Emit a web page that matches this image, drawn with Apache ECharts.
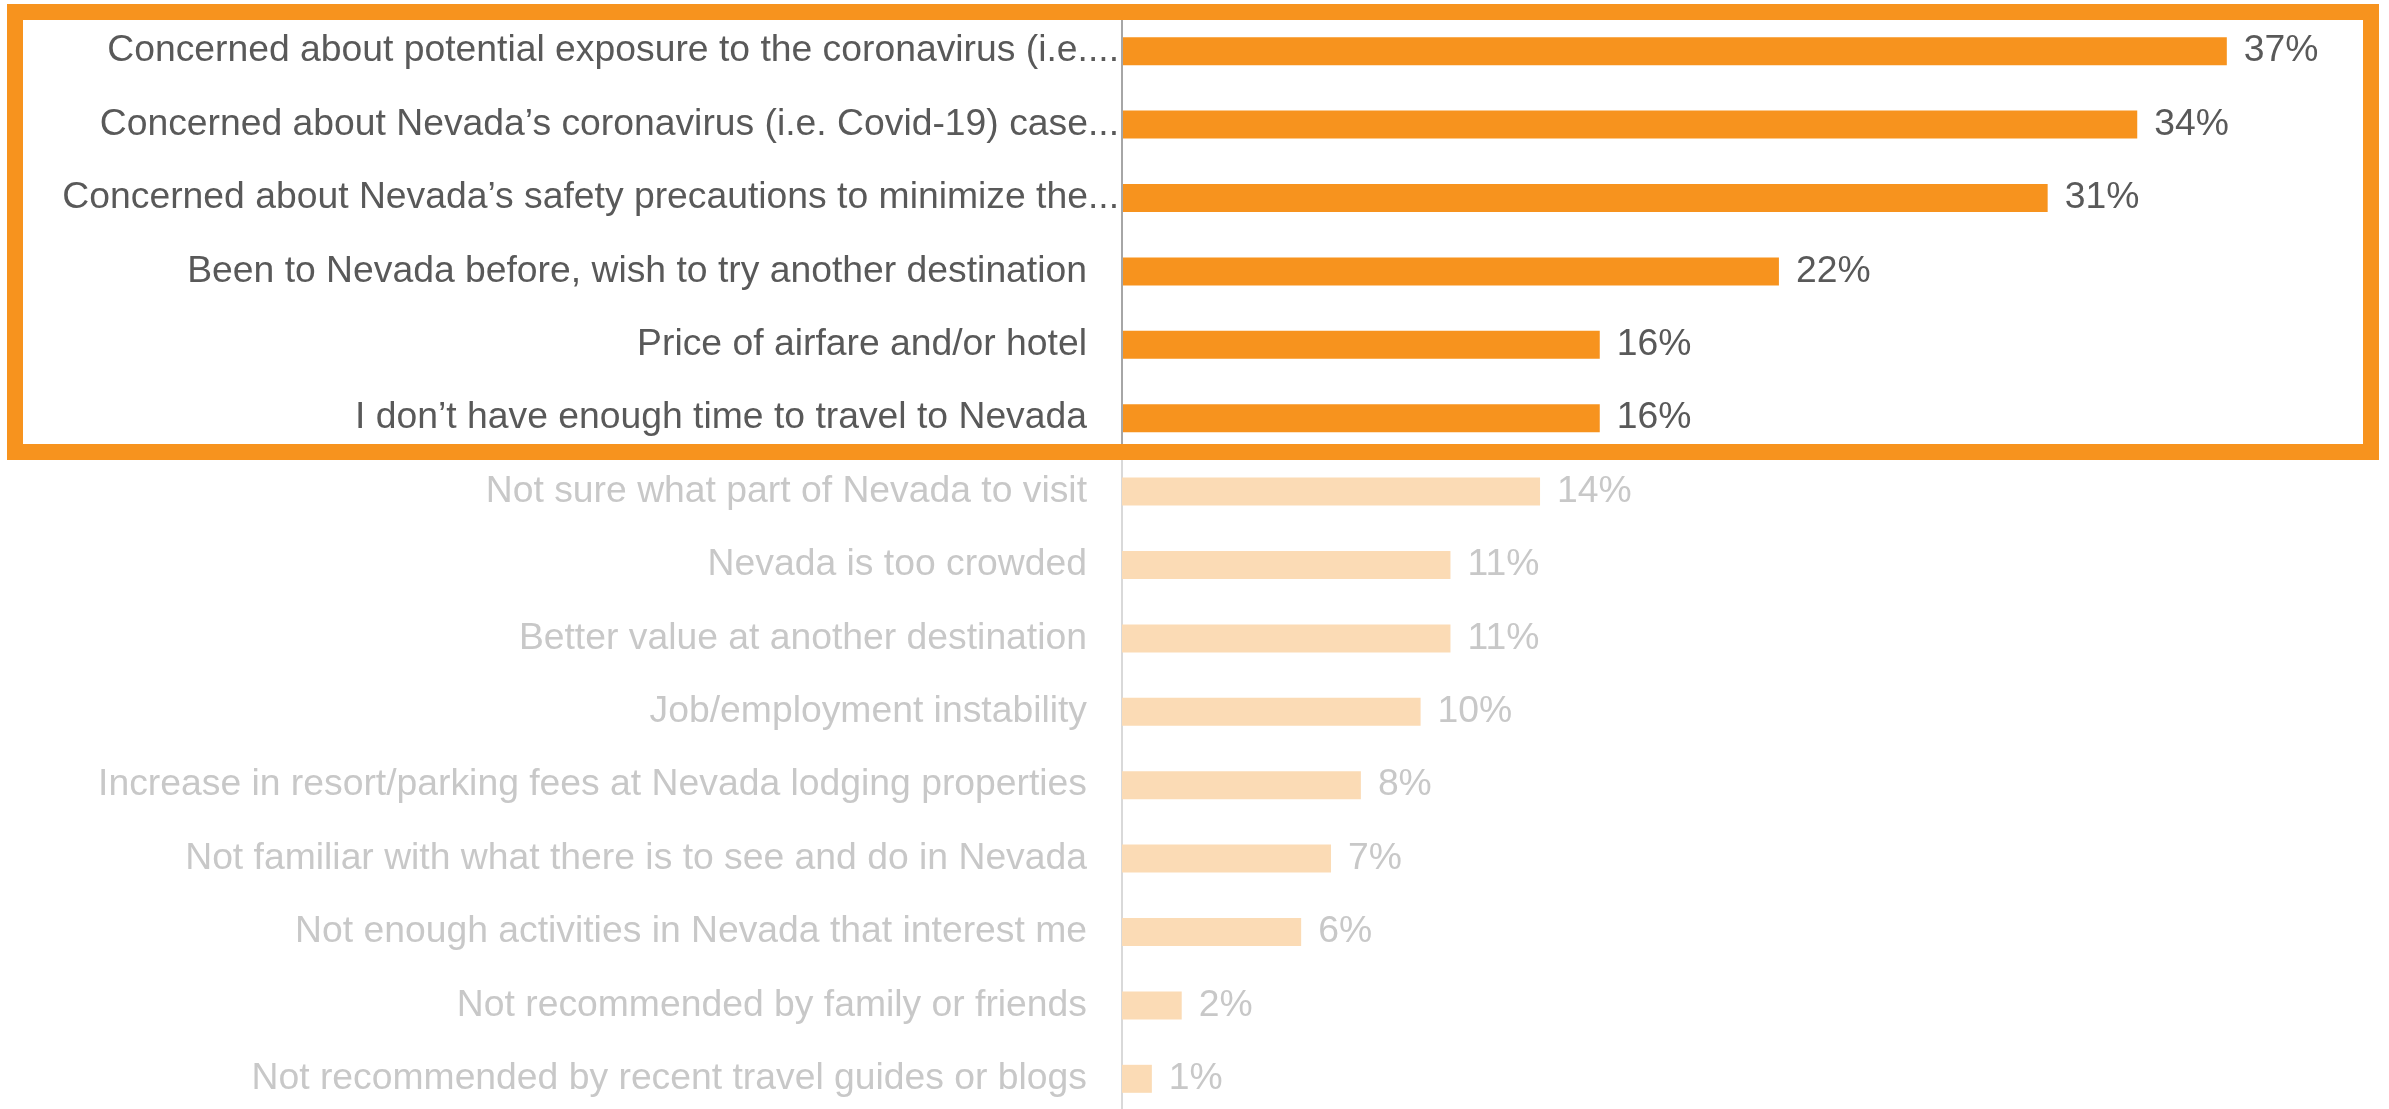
<!DOCTYPE html>
<html>
<head>
<meta charset="utf-8">
<style>
  html, body { margin: 0; padding: 0; background: #ffffff; }
  #chart { width: 2389px; height: 1109px; }
</style>
<script src="https://cdn.jsdelivr.net/npm/echarts@6/dist/echarts.min.js"></script>
</head>
<body>
<div id="chart"></div>
<script>
// Reasons for not visiting Nevada (share of respondents, %)
const categories = [
  'Concerned about potential exposure to the coronavirus (i.e....',
  'Concerned about Nevada\u2019s coronavirus (i.e. Covid-19) case...',
  'Concerned about Nevada\u2019s safety precautions to minimize the...',
  'Been to Nevada before, wish to try another destination',
  'Price of airfare and/or hotel',
  'I don\u2019t have enough time to travel to Nevada',
  'Not sure what part of Nevada to visit',
  'Nevada is too crowded',
  'Better value at another destination',
  'Job/employment instability',
  'Increase in resort/parking fees at Nevada lodging properties',
  'Not familiar with what there is to see and do in Nevada',
  'Not enough activities in Nevada that interest me',
  'Not recommended by family or friends',
  'Not recommended by recent travel guides or blogs'
];
const values = [37, 34, 31, 22, 16, 16, 14, 11, 11, 10, 8, 7, 6, 2, 1];
// the leading reasons are emphasised, the rest are muted
const topCount = 6;
// labels that were cut with an ellipsis sit right against the axis
const truncated = [true, true, true, false, false, false, false, false, false, false, false, false, false, false, false];

const ORANGE = '#F7931E';
const ORANGE_MUTED = '#FBDBB5';
const TEXT = '#595959';
const TEXT_MUTED = '#C8C8C8';
const FONT = '"Liberation Sans", Arial, sans-serif';
const FS = 37.3;

const chart = echarts.init(document.getElementById('chart'), null, { renderer: 'canvas' });

const seriesData = values.map((v, i) => {
  const on = i < topCount;
  return {
    value: v,
    itemStyle: { color: on ? ORANGE : ORANGE_MUTED },
    label: { color: on ? TEXT : TEXT_MUTED }
  };
});

chart.setOption({
  animation: false,
  backgroundColor: '#ffffff',
  grid: {
    left: 1122, right: 72.6, top: 14.5, height: 1101,
    containLabel: false, outerBoundsMode: 'none'
  },
  xAxis: {
    type: 'value', min: 0, max: 40,
    show: false
  },
  yAxis: {
    type: 'category',
    data: categories,
    inverse: true,
    axisTick: { show: false },
    axisLine: { show: true, lineStyle: { color: '#D9D9D9', width: 2 } },
    axisLabel: {
      margin: 3,
      fontFamily: FONT,
      fontSize: FS,
      formatter: function (name, idx) {
        const style = (idx < topCount ? 'a' : 'm') + (truncated[idx] ? 't' : 'n');
        return '{' + style + '|' + name + '}';
      },
      rich: {
        at: { color: TEXT, fontSize: FS, fontFamily: FONT },
        an: { color: TEXT, fontSize: FS, fontFamily: FONT, padding: [0, 32, 0, 0] },
        mt: { color: TEXT_MUTED, fontSize: FS, fontFamily: FONT },
        mn: { color: TEXT_MUTED, fontSize: FS, fontFamily: FONT, padding: [0, 32, 0, 0] }
      }
    }
  },
  series: [{
    type: 'bar',
    data: seriesData,
    barWidth: 28,
    label: {
      show: true,
      position: 'right',
      distance: 17,
      fontFamily: FONT,
      fontSize: FS,
      formatter: '{c}%'
    }
  }]
});

// Highlight frame around the leading reasons, plus the darker axis segment inside it
const c0 = chart.convertToPixel({ yAxisIndex: 0 }, 0);
const c1 = chart.convertToPixel({ yAxisIndex: 0 }, 1);
const band = c1 - c0;
const frameTop = c0 - band / 2 - 2.5;
const frameBottom = c0 + band * (topCount - 0.5) - 3;
const axisX = chart.convertToPixel({ xAxisIndex: 0 }, 0);

chart.setOption({
  graphic: [
    {
      type: 'line', z: 50,
      shape: { x1: axisX, y1: frameTop, x2: axisX, y2: frameBottom },
      style: { stroke: '#A6A6A6', lineWidth: 2 }
    },
    {
      type: 'rect', z: 100,
      shape: { x: 15, y: frameTop, width: 2371 - 15, height: frameBottom - frameTop },
      style: { fill: 'none', stroke: ORANGE, lineWidth: 16 }
    }
  ]
});
</script>
</body>
</html>
